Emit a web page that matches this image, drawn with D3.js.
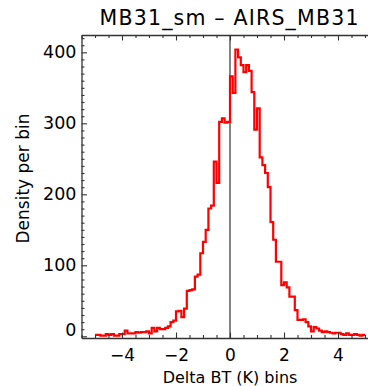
<!DOCTYPE html>
<html>
<head>
<meta charset="utf-8">
<script src="https://cdn.jsdelivr.net/npm/d3@7"></script>
<style>
  html, body { margin: 0; padding: 0; background: #fff; }
  svg { display: block; }
  text { font-family: "DejaVu Sans", sans-serif; fill: #000; }
</style>
</head>
<body>
<svg id="chart" width="368" height="386"></svg>
<script>
// ---- data ----
const binStart = -5.0;
const binWidth = 0.1;
const counts = [
  2, 2, 1, 1, 3, 2, 3, 1, 1, 3,        // -5.0 .. -4.1
  3, 8, 4, 4, 4, 6, 5, 6, 6, 7,        // -4.0 .. -3.1
  4, 12, 7, 12, 10, 10, 12, 14, 20, 22, // -3.0 .. -2.1
  35, 36, 27, 39, 64, 65, 66, 84, 87, 117, // -2.0 .. -1.1
  133, 150, 180, 184, 246, 216, 302, 307, 301, 302, // -1.0 .. -0.1
  366, 343, 404, 393, 382, 372, 382, 374, 344, 291, // 0.0 .. 0.9
  321, 252, 241, 230, 210, 161, 136, 105, 105, 72,  // 1.0 .. 1.9
  76, 69, 56, 56, 37, 23, 23, 24, 20, 14,          // 2.0 .. 2.9
  7, 13, 11, 8, 6, 7, 6, 5, 4, 5,                  // 3.0 .. 3.9
  5, 3, 2, 4, 2, 2, 3, 2, 1, 2                     // 4.0 .. 4.9
];
const xMajorTicks = [-4, -2, 0, 2, 4];
const yMajorTicks = [0, 100, 200, 300, 400];
const titleText = "MB31_sm \u2013 AIRS_MB31";
const xLabel = "Delta BT (K) bins";
const yLabel = "Density per bin";

// ---- layout ----
const svg = d3.select("#chart");
const L = 81.5, R = 378.5, T = 35, B = 338;
const x = d3.scaleLinear().domain([-5.5, 5.5]).range([L, R]);
const y = d3.scaleLinear().domain([-2.4, 424.4]).range([B, T]);
const axisColor = "#333";

// step data
const pts = counts.map((c, i) => [binStart + i * binWidth, c]);
pts.push([binStart + counts.length * binWidth, counts[counts.length - 1]]);

// zero line
svg.append("line")
  .attr("x1", x(0)).attr("x2", x(0))
  .attr("y1", B).attr("y2", T)
  .attr("stroke", axisColor).attr("stroke-width", 1.2);

// histogram
svg.append("path")
  .datum(pts)
  .attr("fill", "none")
  .attr("stroke", "#ff0000")
  .attr("stroke-width", 2.2)
  .attr("stroke-linejoin", "miter")
  .attr("d", d3.line().x(d => x(d[0])).y(d => y(d[1])).curve(d3.curveStepAfter));

// axes
const xMinor = d3.range(-5.5, 5.51, 0.5).filter(v => !xMajorTicks.includes(v));
const yMinor = d3.range(0, 421, 10).filter(v => !yMajorTicks.includes(v));

function styleAxis(g, size) {
  g.selectAll("path.domain").attr("stroke", axisColor).attr("stroke-width", 1.3);
  g.selectAll(".tick line").attr("stroke", axisColor).attr("stroke-width", 1.1);
  g.selectAll("text").attr("font-size", size).attr("font-family", "DejaVu Sans, sans-serif").attr("fill", "#000");
}

// bottom
const gB = svg.append("g").attr("transform", `translate(0,${B})`)
  .call(d3.axisBottom(x).tickValues(xMajorTicks).tickSize(-5.5).tickSizeOuter(0)
    .tickFormat(d => d3.format("d")(d).replace("-", "\u2212")));
styleAxis(gB, "17px");
gB.selectAll(".tick text").attr("y", 23).attr("dy", "0");
svg.append("g").attr("transform", `translate(0,${B})`)
  .call(d3.axisBottom(x).tickValues(xMinor).tickSize(-3).tickSizeOuter(0).tickFormat(""))
  .call(g => { g.select("path.domain").remove(); g.selectAll("line").attr("stroke", axisColor).attr("stroke-width", 1.1); });

// top
const gT = svg.append("g").attr("transform", `translate(0,${T})`)
  .call(d3.axisTop(x).tickValues(xMajorTicks).tickSize(-5.5).tickSizeOuter(0).tickFormat(""));
styleAxis(gT, "17px");
svg.append("g").attr("transform", `translate(0,${T})`)
  .call(d3.axisTop(x).tickValues(xMinor).tickSize(-3).tickSizeOuter(0).tickFormat(""))
  .call(g => { g.select("path.domain").remove(); g.selectAll("line").attr("stroke", axisColor).attr("stroke-width", 1.1); });

// left
const gL = svg.append("g").attr("transform", `translate(${L},0)`)
  .call(d3.axisLeft(y).tickValues(yMajorTicks).tickSize(-5.5).tickSizeOuter(0).tickPadding(5));
styleAxis(gL, "17.5px");
// keep lowest label clear of the bottom axis
gL.selectAll(".tick text").attr("y", d => Math.min(0, (B - 8) - y(d)));
svg.append("g").attr("transform", `translate(${L},0)`)
  .call(d3.axisLeft(y).tickValues(yMinor).tickSize(-3).tickSizeOuter(0).tickFormat(""))
  .call(g => { g.select("path.domain").remove(); g.selectAll("line").attr("stroke", axisColor).attr("stroke-width", 1.1); });

// right (box edge)
svg.append("line").attr("x1", R).attr("x2", R).attr("y1", T).attr("y2", B)
  .attr("stroke", axisColor).attr("stroke-width", 1.3);

// title
svg.append("text")
  .attr("x", (L + R) / 2 - 1).attr("y", 25)
  .attr("text-anchor", "middle")
  .attr("font-size", "20.5px")
  .attr("textLength", 259).attr("lengthAdjust", "spacing")
  .text(titleText);

// x label
svg.append("text")
  .attr("x", 230).attr("y", 382.5)
  .attr("text-anchor", "middle")
  .attr("font-size", "16px")
  .text(xLabel);

// y label
svg.append("text")
  .attr("transform", `translate(29,${(T + B) / 2 - 8}) rotate(-90)`)
  .attr("text-anchor", "middle")
  .attr("font-size", "17px")
  .text(yLabel);
</script>
</body>
</html>
